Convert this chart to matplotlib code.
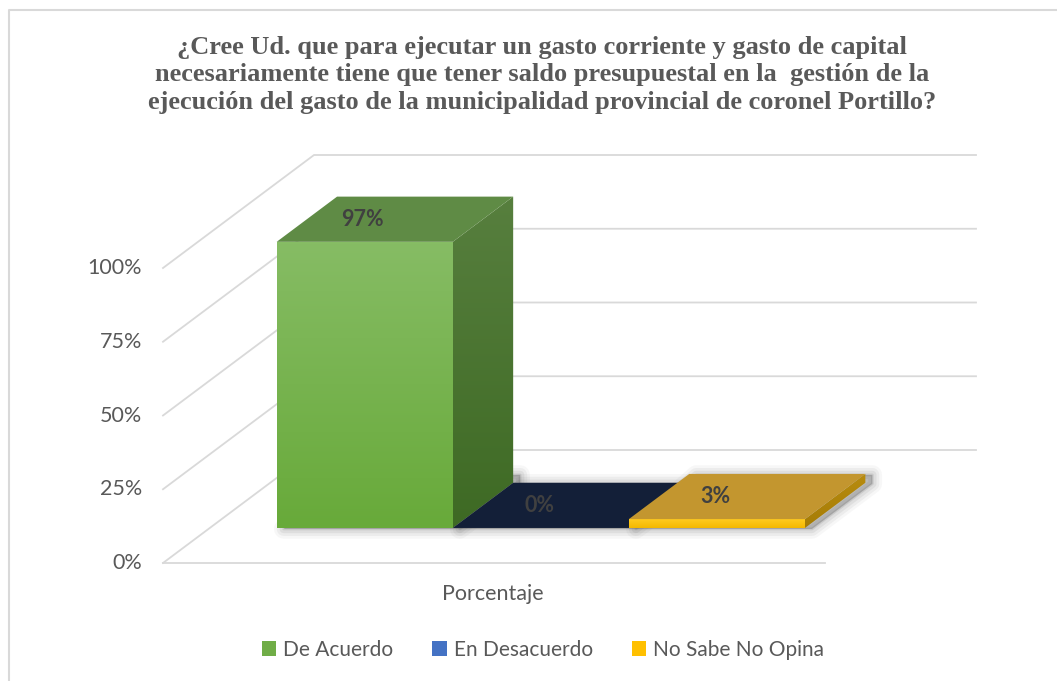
import numpy as np
import matplotlib
matplotlib.use('Agg')
import matplotlib.pyplot as plt
from matplotlib.patches import Polygon, Patch
from matplotlib.colors import LinearSegmentedColormap

# Datos
categoria = 'Porcentaje'
series = ['De Acuerdo', 'En Desacuerdo', 'No Sabe No Opina']
valores = [97, 0, 3]
ticks = [0, 25, 50, 75, 100]
etiquetas_ticks = ['0%', '25%', '50%', '75%', '100%']
titulo = ('¿Cree Ud. que para ejecutar un gasto corriente y gasto de capital\n'
          'necesariamente tiene que tener saldo presupuestal en la  gestión de la\n'
          'ejecución del gasto de la municipalidad provincial de coronel Portillo?')

# colores: (frente arriba, frente abajo, tapa, lado arriba, lado abajo)
colores = [
    ('#86BC64', '#68AA3A', '#5F8B45', '#577F3E', '#3E6A24'),
    ('#1F3A6E', '#1A3263', '#131F38', '#101A30', '#0E172B'),
    ('#FFCB1F', '#F4B800', '#C3962F', '#B88C10', '#A67C05'),
]
colores_leyenda = ['#70AD47', '#4472C4', '#FFC000']

GRIS = '#595959'
GRID = '#D9D9D9'

# proyeccion oblicua "3D" en pixeles
X0, Y0, W, H, DX, DY = 163, 563, 662, 295, 151, 113
VMAX = 100.0


def proj(u, v, t):
    return (X0 + W * u + DX * t, Y0 - H * v / VMAX - DY * t)


def cara(ax, pts, c1, c2, z):
    pts = np.array(pts)
    poly = Polygon(pts, closed=True, fc='none', ec='none', zorder=z)
    ax.add_patch(poly)
    cmap = LinearSegmentedColormap.from_list('g', [c1, c2])
    im = ax.imshow(np.linspace(0, 1, 64).reshape(-1, 1), cmap=cmap,
                   extent=(pts[:, 0].min(), pts[:, 0].max(), pts[:, 1].max(), pts[:, 1].min()),
                   aspect='auto', zorder=z, interpolation='bilinear')
    im.set_clip_path(poly)


fig = plt.figure(figsize=(10.57, 6.81), dpi=100)
ax = fig.add_axes([0, 0, 1, 1])

# borde del grafico
ax.plot([9, 9, 1057], [681, 10, 10], color='#D9D9D9', lw=1.5, zorder=1)

# cuadricula (pared izquierda y fondo)
for v in ticks:
    a = proj(0, v, 0)
    b = proj(0, v, 1)
    c = proj(1, v, 1)
    ax.plot([a[0], b[0], c[0]], [a[1], b[1], c[1]], color=GRID, lw=1.3, zorder=2)
a = proj(0, 0, 0)
b = proj(1, 0, 0)
ax.plot([a[0], b[0]], [a[1], b[1]], color=GRID, lw=1.3, zorder=2)

for v, lab in zip(ticks, etiquetas_ticks):
    x, y = proj(0, v, 0)
    ax.text(x - 21, y, lab, ha='right', va='center', fontsize=15.5,
            family='Lato', color=GRIS)

# barras
n = len(valores)
ancho = 0.266
u_ini = 0.5 - n * ancho / 2
t0, t1 = 0.31, 0.71
for i, (val, col) in enumerate(zip(valores, colores)):
    u0 = u_ini + i * ancho
    u1 = u0 + ancho
    z = 5 + i
    # sombra
    hs = min(val, 3)
    sh = [proj(u0, 0, t0), proj(u1, 0, t0), proj(u1, 0, t1), proj(u1, hs, t1),
          proj(u0, hs, t1)]
    sh = np.array(sh) + np.array([7, 1])
    for lw, al in [(14, 0.04), (10, 0.06), (6, 0.08), (2, 0.12)]:
        ax.add_patch(Polygon(sh, closed=True, fc='#404040', ec='#404040', lw=lw,
                             alpha=al, joinstyle='round', zorder=4))
    frente = [proj(u0, 0, t0), proj(u1, 0, t0), proj(u1, val, t0), proj(u0, val, t0)]
    tapa = [proj(u0, val, t0), proj(u1, val, t0), proj(u1, val, t1), proj(u0, val, t1)]
    lado = [proj(u1, 0, t0), proj(u1, 0, t1), proj(u1, val, t1), proj(u1, val, t0)]
    if val > 0:
        cara(ax, frente, col[0], col[1], z)
        cara(ax, lado, col[3], col[4], z)
    ax.add_patch(Polygon(tapa, closed=True, fc=col[2], ec='none', zorder=z))
    xl, yl = proj((u0 + u1) / 2, val, (t0 + t1) / 2)
    ax.text(xl - 32, yl, f'{val}%', ha='center', va='center', fontsize=15.5,
            fontweight='bold', family='Lato', color='#404040', zorder=10)

# eje de categorias
xc, yc = proj(0.5, 0, 0)
ax.text(xc - 1, 594, categoria, ha='center', va='center', fontsize=15.5,
        family='Lato', color=GRIS)

# titulo
ax.text(542, 75, titulo, ha='center', va='center', fontsize=19,
        fontweight='bold', family='Liberation Serif', color=GRIS, linespacing=1.25)

# leyenda
handles = [Patch(facecolor=c, edgecolor='none') for c in colores_leyenda]
leg = ax.legend(handles, series, loc='center', bbox_to_anchor=(543 / 1057, 1 - 650 / 681),
                ncol=3, frameon=False, handlelength=0.7, handleheight=0.7,
                handletextpad=0.35, columnspacing=1.85,
                prop={'family': 'Lato', 'size': 15})
for t in leg.get_texts():
    t.set_color(GRIS)

ax.set_xlim(0, 1057)
ax.set_ylim(681, 0)
ax.axis('off')

fig.savefig('out.png', dpi=100)
